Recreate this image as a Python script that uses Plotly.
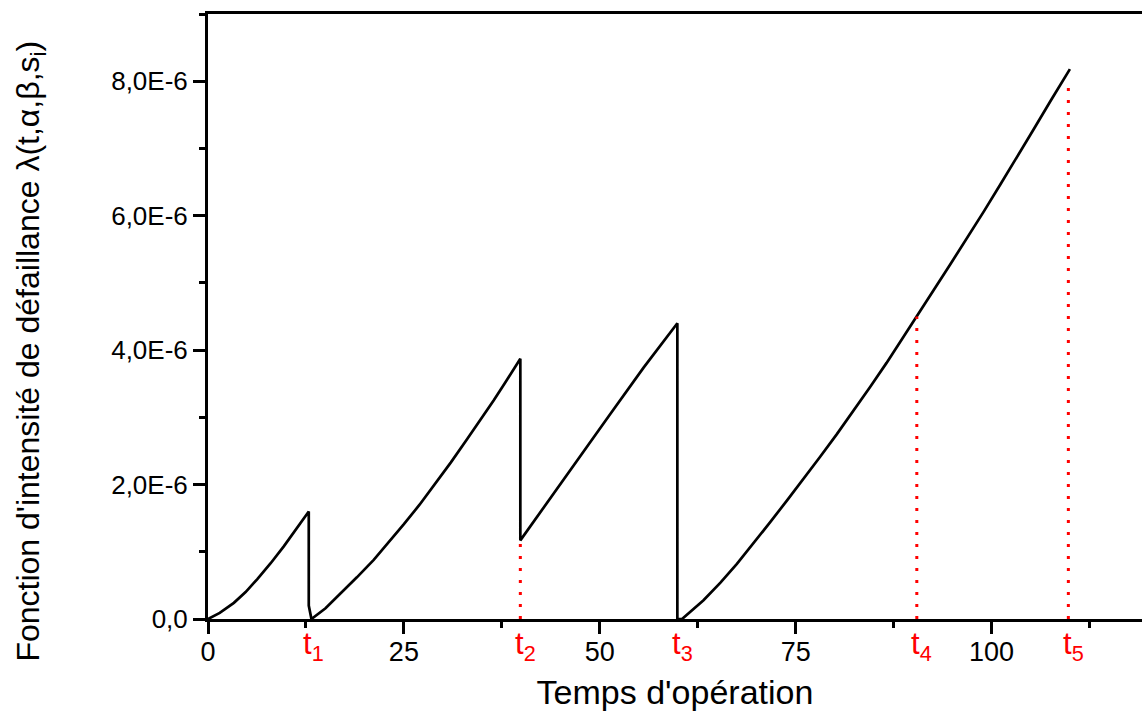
import numpy as np
import plotly.graph_objects as go

# Operating time (same units as the x axis)
t_curve = [
    0.0, 1.5, 3.3, 4.8, 6.27, 8.0, 9.67, 11.2, 12.86,          # first cycle
    12.86, 13.1, 13.2,                                          # maintenance at t1
    15.0, 17.3, 19.0, 21.15, 23.0, 25.0, 27.0, 28.8, 31.0,
    33.1, 35.0, 36.45, 38.0, 39.86,                             # second cycle
    39.86,                                                      # maintenance at t2
    42.83, 47.09, 51.34, 55.59, 59.9,                           # third cycle
    59.9, 60.5,                                                 # maintenance at t3
    63.24, 65.4, 67.5, 69.6, 71.75, 74.0, 76.0, 78.1, 80.26,
    82.4, 84.5, 86.6, 88.75, 90.46, 92.6, 94.7, 96.84, 99.0,
    101.1, 103.2, 105.3, 107.6, 110.0,                          # fourth cycle
]

# Failure intensity, in units of 1e-6
lam_curve_e6 = [
    0.0, 0.09, 0.24, 0.40, 0.59, 0.83, 1.08, 1.33, 1.60,
    0.20, 0.02, 0.0,
    0.16, 0.42, 0.62, 0.88, 1.13, 1.41, 1.70, 1.98, 2.33,
    2.68, 3.00, 3.25, 3.53, 3.87,
    1.17,
    1.66, 2.36, 3.05, 3.74, 4.40,
    0.0, 0.0,
    0.28, 0.54, 0.82, 1.12, 1.44, 1.78, 2.08, 2.41, 2.75,
    3.10, 3.45, 3.81, 4.19, 4.50, 4.89, 5.27, 5.66, 6.06,
    6.46, 6.86, 7.27, 7.72, 8.18,
]

# Maintenance instants and the marker labels drawn under the axis
t_events = [12.86, 39.86, 59.9, 90.46, 109.8]
event_labels = ["t<sub>1</sub>", "t<sub>2</sub>", "t<sub>3</sub>", "t<sub>4</sub>", "t<sub>5</sub>"]

# Red dotted guides: (instant, intensity reached, in units of 1e-6)
guide_t = [39.86, 90.46, 109.8]
guide_lam_e6 = [1.17, 4.50, 8.00]

# Axis ticks
x_major = [0, 25, 50, 75, 100]
x_minor = [12.5, 37.5, 62.5, 87.5, 112.5]
y_major_e6 = [0, 2, 4, 6, 8]
y_major_text = ["0,0", "2,0E-6", "4,0E-6", "6,0E-6", "8,0E-6"]
y_minor_e6 = [1, 3, 5, 7, 9]

FONT = "Arial, Liberation Sans, sans-serif"
E6 = 1e-6

fig = go.Figure()

fig.add_trace(go.Scatter(
    x=t_curve,
    y=np.array(lam_curve_e6) * E6,
    mode="lines",
    line=dict(color="black", width=2.7),
    showlegend=False,
    hoverinfo="skip",
))

for tg, lg in zip(guide_t, guide_lam_e6):
    fig.add_trace(go.Scatter(
        x=[tg, tg],
        y=[0, lg * E6],
        mode="lines",
        line=dict(color="#ff0000", width=3, dash="3px,9px"),
        showlegend=False,
        hoverinfo="skip",
    ))

for te, lab in zip(t_events, event_labels):
    fig.add_annotation(
        x=te, y=0, xref="x", yref="y",
        text=lab, showarrow=False,
        xanchor="center", yanchor="top",
        xshift=5, yshift=-5,
        font=dict(family=FONT, size=31, color="#ff0000"),
    )

fig.update_xaxes(
    range=[0, 119.2],
    tickmode="array", tickvals=x_major,
    ticks="outside", ticklen=12, tickwidth=3, tickcolor="black",
    minor=dict(tickmode="array", tickvals=x_minor, ticks="outside",
               ticklen=6, tickwidth=3, tickcolor="black"),
    showline=True, linewidth=3, linecolor="black", mirror=True,
    showgrid=False, zeroline=False,
    ticklabelstandoff=-5,
    tickfont=dict(family=FONT, size=27, color="black"),
    title=dict(text="Temps d'opération", standoff=14,
               font=dict(family=FONT, size=34, color="black")),
)

fig.update_yaxes(
    range=[0, 9 * E6],
    tickmode="array",
    tickvals=[v * E6 for v in y_major_e6], ticktext=y_major_text,
    ticks="outside", ticklen=12, tickwidth=3, tickcolor="black",
    minor=dict(tickmode="array", tickvals=[v * E6 for v in y_minor_e6],
               ticks="outside", ticklen=6, tickwidth=3, tickcolor="black"),
    showline=True, linewidth=3, linecolor="black", mirror=False,
    showgrid=False, zeroline=False,
    tickfont=dict(family=FONT, size=26, color="black"),
)

fig.add_annotation(
    xref="paper", yref="paper", x=-177 / 934, y=0.442,
    text="Fonction d'intensité de défaillance λ(t,α,β,s<sub>i</sub>)",
    textangle=-90, showarrow=False,
    xanchor="center", yanchor="middle",
    font=dict(family=FONT, size=32, color="black"),
)

fig.update_layout(
    width=1142, height=711,
    margin=dict(l=208, r=0, t=14, b=92),
    paper_bgcolor="white", plot_bgcolor="white",
)

fig.write_html("out.html")
